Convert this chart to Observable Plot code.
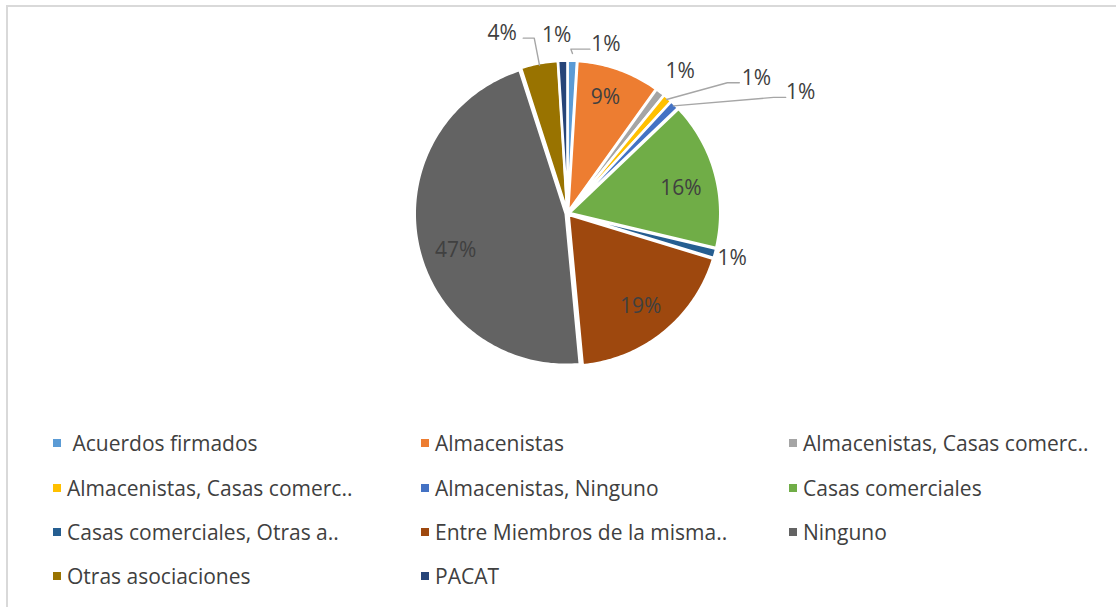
<!DOCTYPE html>
<html>
<head>
<meta charset="utf-8">
<script src="https://cdn.jsdelivr.net/npm/d3@7"></script>
<script src="https://cdn.jsdelivr.net/npm/@observablehq/plot@0.6"></script>
<style>
  body { margin:0; background:#fff; font-family: "Open Sans", Lato, sans-serif; }
  #frame { position:absolute; left:6px; top:5px; width:1110px; height:602px; border-top:2px solid #d9d9d9; border-left:2px solid #d9d9d9; }
  #chart { position:absolute; left:0; top:0; }
  .lg-item { position:absolute; display:flex; align-items:center; font-size:21px; color:#404040; white-space:pre; line-height:1; }
  .lg-sw { width:8px; height:8px; margin-right:6px; flex:none; }
</style>
</head>
<body>
<div id="frame"></div>
<div id="chart"></div>
<div id="legend"></div>
<script>
// ---- data ----
const names = [
  " Acuerdos firmados",
  "Almacenistas",
  "Almacenistas, Casas comerc..",
  "Almacenistas, Casas comerc.. ",
  "Almacenistas, Ninguno",
  "Casas comerciales",
  "Casas comerciales, Otras a..",
  "Entre Miembros de la misma..",
  "Ninguno",
  "Otras asociaciones",
  "PACAT"
];
const values = [1, 9, 1, 1, 1, 16, 1, 19, 47, 4, 1];
const colors = ["#5B9BD5", "#ED7D31", "#A5A5A5", "#FFC000", "#4472C4", "#70AD47",
                "#255E91", "#9E480E", "#636363", "#997300", "#264478"];

// ---- layout (styling, not data) ----
const W = 1116, H = 410, cx = 567, cy = 213, R = 151;
// label placement per slice: [radius factor, angle offset in degrees from slice middle]
const labelPlace = [[1.15, 11], [0.81, -1.5], [1.20, 1], [1.54, 13.3], [1.74, 18], [0.77, 2.7],
                    [1.13, 0], [0.78, 0.8], [0.78, -6.8], [1.27, -9.2], [1.18, -1.7]];
// leader lines: slice index -> {rs: start radius, dx: end offset from label (px), ex: elbow run (px)}
const leaders = {
  0: {rs: 1.06, dx: -16, ex: -19},
  3: {rs: 1.0, dx: -17, ex: -12},
  4: {rs: 1.0, dx: -15, ex: -12},
  9: {rs: 1.0, dx: 21, ex: 11}
};

const total = d3.sum(values);
const arcs = d3.pie().sort(null).value(d => d)(values);
const explode = 1.8 / R;
const deg = Math.PI / 180;

const slicePts = [];
const labelPts = [];
const leaderPts = [];
arcs.forEach((a, i) => {
  const mid = (a.startAngle + a.endAngle) / 2;
  const ox = Math.sin(mid) * explode, oy = Math.cos(mid) * explode;
  slicePts.push({name: names[i], x: ox, y: oy});
  const n = Math.max(2, Math.ceil((a.endAngle - a.startAngle) / deg));
  for (let k = 0; k <= n; k++) {
    const t = a.startAngle + (a.endAngle - a.startAngle) * k / n;
    slicePts.push({name: names[i], x: ox + Math.sin(t), y: oy + Math.cos(t)});
  }
  const [rf, da] = labelPlace[i];
  const la = mid + da * deg;
  const lx = Math.sin(la) * rf, ly = Math.cos(la) * rf;
  labelPts.push({x: lx, y: ly, text: Math.round(values[i] / total * 100) + "%"});
  const L = leaders[i];
  if (L) {
    const ex = lx + L.dx / R, ey = ly - 5 / R;
    leaderPts.push({name: names[i], x: Math.sin(mid) * L.rs, y: Math.cos(mid) * L.rs});
    leaderPts.push({name: names[i], x: ex + L.ex / R, y: ey});
    leaderPts.push({name: names[i], x: ex, y: ey});
  }
});

const chart = Plot.plot({
  width: W, height: H, margin: 0,
  style: {background: "transparent", overflow: "visible"},
  x: {domain: [-cx / R, (W - cx) / R], axis: null},
  y: {domain: [(cy - H) / R, cy / R], axis: null},
  color: {domain: names, range: colors},
  marks: [
    Plot.line(slicePts, {x: "x", y: "y", z: "name", fill: "name", stroke: "white", strokeWidth: 2.5, curve: "linear-closed"}),
    Plot.line(leaderPts, {x: "x", y: "y", z: "name", stroke: "#a6a6a6", strokeWidth: 1.4}),
    Plot.text(labelPts, {x: "x", y: "y", text: "text", fill: "#404040", fontSize: 21, fontFamily: "Open Sans"})
  ]
});
document.getElementById("chart").appendChild(chart);

// ---- legend ----
const colX = [53, 421, 789];
const rowY = [443, 488, 532, 576];
const lg = document.getElementById("legend");
names.forEach((nm, i) => {
  const el = document.createElement("div");
  el.className = "lg-item";
  el.style.left = colX[i % 3] + "px";
  el.style.top = (rowY[Math.floor(i / 3)] - 10) + "px";
  el.style.height = "20px";
  const sw = document.createElement("span");
  sw.className = "lg-sw";
  sw.style.background = colors[i];
  const tx = document.createElement("span");
  tx.textContent = nm.trimEnd();
  el.appendChild(sw); el.appendChild(tx);
  lg.appendChild(el);
});
</script>
</body>
</html>
